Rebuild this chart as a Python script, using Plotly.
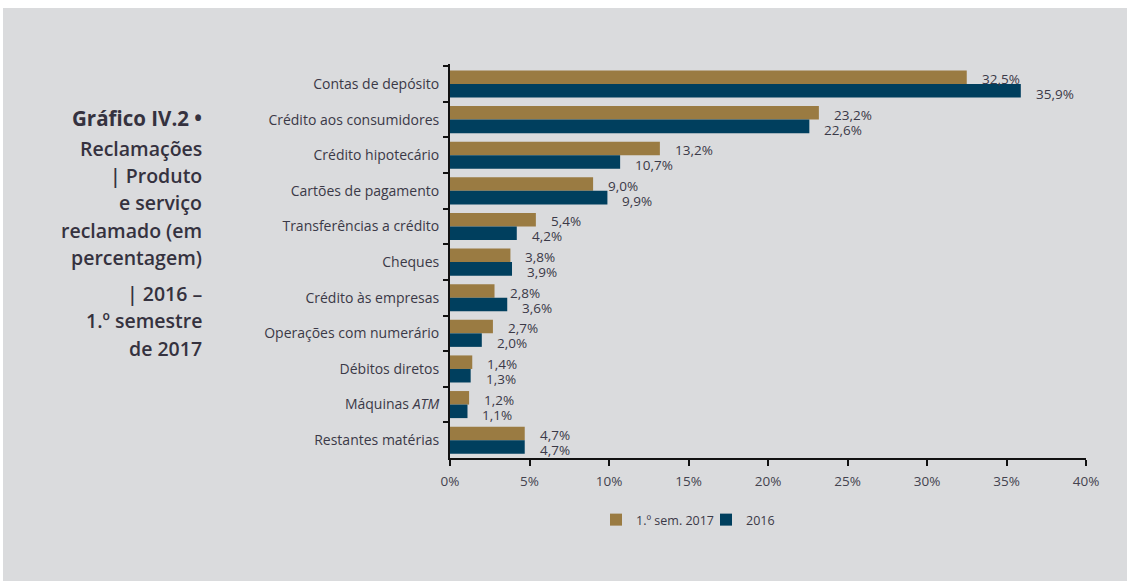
import plotly.graph_objects as go

# ---------------- data ----------------
categories = [
    "Contas de depósito",
    "Crédito aos consumidores",
    "Crédito hipotecário",
    "Cartões de pagamento",
    "Transferências a crédito",
    "Cheques",
    "Crédito às empresas",
    "Operações com numerário",
    "Débitos diretos",
    "Máquinas <i>ATM</i>",
    "Restantes matérias",
]
sem2017 = [32.5, 23.2, 13.2, 9.0, 5.4, 3.8, 2.8, 2.7, 1.4, 1.2, 4.7]
y2016 = [35.9, 22.6, 10.7, 9.9, 4.2, 3.9, 3.6, 2.0, 1.3, 1.1, 4.7]
series_names = ["1.º sem. 2017", "2016"]
x_tickvals = [0, 5, 10, 15, 20, 25, 30, 35, 40]
x_ticktext = ["0%", "5%", "10%", "15%", "20%", "25%", "30%", "35%", "40%"]
title_lines = [
    "Gráfico IV.2 •",
    "Reclamações",
    "| Produto",
    "e serviço",
    "reclamado (em",
    "percentagem)",
    "| 2016 –",
    "1.º semestre",
    "de 2017",
]

# ---------------- style ----------------
GOLD = "#9a7b42"
NAVY = "#003f5e"
BG = "#dadbdd"
TXT = "#3a3947"
FONT = "Open Sans"

W, H = 1127, 581
ML, MR, MT, MB = 450, 41, 64, 123
PW = W - ML - MR
PH = H - MT - MB


def px2x(px):
    return (px - ML) / PW


def py2y(py):
    return (H - MB - py) / PH


fig = go.Figure()
fig.add_trace(go.Bar(
    y=categories, x=sem2017, orientation="h", name=series_names[0],
    marker=dict(color=GOLD, line=dict(width=0)), hoverinfo="x+y",
))
fig.add_trace(go.Bar(
    y=categories, x=y2016, orientation="h", name=series_names[1],
    marker=dict(color=NAVY, line=dict(width=0)), hoverinfo="x+y",
))

annotations = []
# value labels
for vals, ysh in ((sem2017, 5), (y2016, -10)):
    for c, v in zip(categories, vals):
        annotations.append(dict(
            x=v, y=c, xref="x", yref="y", text=f"{v:.1f}%".replace(".", ","),
            showarrow=False, xanchor="left", yanchor="middle",
            xshift=14, yshift=ysh, borderpad=0,
            font=dict(family=FONT, size=13.5, color=TXT),
        ))

# title on the left
title_y = [118, 148, 175, 202, 230, 257, 293, 320, 348]
for i, (line, yy) in enumerate(zip(title_lines, title_y)):
    annotations.append(dict(
        x=px2x(204), y=py2y(yy), xref="paper", yref="paper", text=line,
        showarrow=False, xanchor="right", yanchor="middle",
        font=dict(family=FONT, size=20.5 if i == 0 else 19.5,
                  color="#35323f", weight=700 if i == 0 else 600),
    ))

shapes = [
    # white strip at top and left of the grey panel
    dict(type="rect", xref="paper", yref="paper",
         x0=px2x(-5), x1=px2x(W + 5), y0=py2y(8), y1=py2y(-5),
         fillcolor="white", line=dict(width=0), layer="below"),
    dict(type="rect", xref="paper", yref="paper",
         x0=px2x(-5), x1=px2x(3), y0=py2y(H + 5), y1=py2y(-5),
         fillcolor="white", line=dict(width=0), layer="below"),
]

fig.update_layout(
    width=W, height=H,
    margin=dict(l=ML, r=MR, t=MT, b=MB, pad=0),
    paper_bgcolor=BG, plot_bgcolor="rgba(0,0,0,0)",
    barmode="group", bargap=0.24, bargroupgap=0,
    separators=",.",
    font=dict(family=FONT, color=TXT),
    showlegend=True,
    legend=dict(
        orientation="h", xanchor="left", yanchor="middle",
        x=px2x(596), y=py2y(520),
        font=dict(family=FONT, size=12.5, color=TXT),
        entrywidth=65, entrywidthmode="pixels",
        bgcolor="rgba(0,0,0,0)", traceorder="normal",
    ),
    annotations=annotations,
    shapes=shapes,
)
fig.update_xaxes(
    range=[0, 40], tickvals=x_tickvals, ticktext=x_ticktext,
    showgrid=False, zeroline=False,
    showline=True, linecolor="#111111", linewidth=2,
    ticks="outside", ticklen=6, tickwidth=2, tickcolor="#111111",
    ticklabelstandoff=4,
    tickfont=dict(family=FONT, size=13.5, color="#44434f"),
    fixedrange=True,
)
fig.update_yaxes(
    autorange="reversed", type="category",
    showgrid=False, zeroline=False,
    showline=True, linecolor="#111111", linewidth=2,
    ticks="outside", ticklen=5, tickwidth=2, tickcolor="#111111",
    tickson="boundaries", ticklabelstandoff=6,
    tickfont=dict(family=FONT, size=14, color=TXT),
    fixedrange=True,
)

fig.write_html("out.html")
